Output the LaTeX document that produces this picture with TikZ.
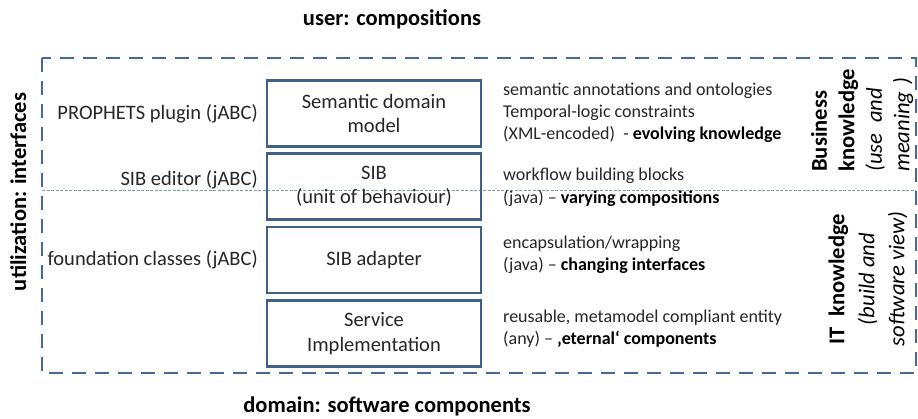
\documentclass[tikz,border=0pt]{standalone}
\usepackage{fontspec}
\setmainfont{Carlito}
\definecolor{dashblue}{HTML}{44699A}
\definecolor{boxblue}{HTML}{3E6089}
\definecolor{midblue}{HTML}{7C98C2}
\definecolor{txt}{HTML}{262626}
\begin{document}
\begin{tikzpicture}[x=1pt,y=-1pt,
  every node/.style={inner sep=0pt, text=txt},
  title/.style={font=\fontsize{22.5}{27}\selectfont\bfseries, text=black},
  lbl/.style={font=\fontsize{20.5}{24}\selectfont, anchor=base east},
  layer/.style={draw=boxblue, line width=2.2pt, minimum width=214pt, minimum height=66pt,
    align=center, font=\fontsize{20.5}{24.5}\selectfont},
  desc/.style={font=\fontsize{18}{21}\selectfont, anchor=base west},
  side/.style={rotate=90, text=black}
]
\useasboundingbox (0,0) rectangle (918,418);
% frame and divider
\draw[midblue, line width=0.9pt, dash pattern=on 3pt off 1.5pt] (42,190) -- (916,190);
\draw[dashblue, line width=2.6pt, dash pattern=on 14pt off 9pt] (42,58) rectangle (916,373);
% titles
\node[title, anchor=base] (top) at (392,25) {user: compositions};
\node[title, anchor=base] (bottom) at (387,412) {domain: software components};
\node[title, rotate=90, anchor=base] (util) at (26,192) {utilization: interfaces};
% layer boxes
\node[layer] (sdm) at (374,113.5) {Semantic domain\\model};
\node[layer] (sib) at (374,186.5) {SIB\\(unit of behaviour)};
\node[layer] (adp) at (374,260) {SIB adapter};
\node[layer] (svc) at (374,333.5) {Service\\Implementation};
% left labels
\node[lbl] (l1) at (258,119) {PROPHETS plugin (jABC)};
\node[lbl] (l2) at (258,185) {SIB editor (jABC)};
\node[lbl] (l3) at (258,265) {foundation classes (jABC)};
% right descriptions
\node[desc] (d1a) at (503,95) {semantic annotations and ontologies};
\node[desc] (d1b) at (503,117) {Temporal-logic constraints};
\node[desc] (d1c) at (503,139) {(XML-encoded)\ \ - \textbf{\color{black}evolving knowledge}};
\node[desc] (d2a) at (503,180) {workflow building blocks};
\node[desc] (d2b) at (503,203) {(java) – \textbf{\color{black}varying compositions}};
\node[desc] (d3a) at (503,248) {encapsulation/wrapping};
\node[desc] (d3b) at (503,270) {(java) – \textbf{\color{black}changing interfaces}};
\node[desc] (d4a) at (503,322) {reusable, metamodel compliant entity};
\node[desc] (d4b) at (503,344) {(any) – \textbf{\color{black}‚eternal‘ components}};
% knowledge labels
\node[side, anchor=west, align=left, font=\fontsize{22.6}{27.5}\selectfont] (biz) at (862,172)
  {\textbf{Business}\\\textbf{knowledge}\\\textit{(use\hspace{11pt}and}\\\textit{meaning\hspace{7pt})}};
\node[side, anchor=center, align=center, font=\fontsize{22.6}{30}\selectfont] (it) at (868,279)
  {\textbf{IT\ \ knowledge}\\\textit{(build and}\\\textit{software view)}};
\end{tikzpicture}
\end{document}
